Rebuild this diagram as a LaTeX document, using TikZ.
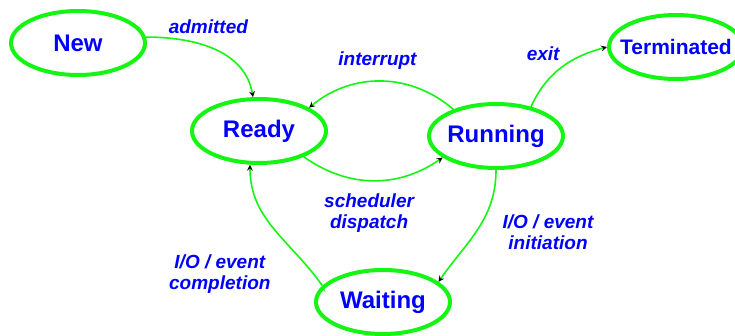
\documentclass[tikz,border=0pt]{standalone}
\usepackage{fontspec}
\setmainfont{Liberation Sans}
\usetikzlibrary{arrows,shapes.geometric}
\definecolor{verde}{RGB}{20,245,20}
\definecolor{azul}{RGB}{0,0,255}
\tikzstyle{trans}=[draw=verde, line width=1.6pt, >=stealth, ->]

\begin{document}
\begin{tikzpicture}[x=1pt,y=1pt,auto,
    estado/.style={ellipse,draw=verde,line width=4pt,minimum width=134pt,minimum height=64pt,
      inner sep=0pt,inner xsep=-2pt,text=azul,font=\fontsize{24}{28}\selectfont\bfseries},
    etiq/.style={text=azul,font=\fontsize{19}{21}\selectfont\bfseries\itshape,align=center,inner sep=3pt}]
  \useasboundingbox (0,0) rectangle (735,335);
  \node [estado] (new) at (78,292) {New};
  \node [estado] (ready) at (259,204) {Ready};
  \node [estado] (running) at (496,199) {Running};
  \node [estado,inner xsep=-11pt,font=\fontsize{21}{24}\selectfont\bfseries] (term) at (676,288) {Terminated};
  \node [estado] (waiting) at (383,33) {Waiting};
  \path[trans]
    (new.5)       edge [out=0,in=100]    node [etiq,pos=.35,above=5pt,xshift=13pt] {admitted} (ready.100)
    (running.148) edge [bend right=40]   node [etiq,swap,xshift=-4pt,yshift=8pt] {interrupt} (ready.25)
    (ready.-30)   edge [bend right=35]   node [etiq,swap,xshift=-4pt,yshift=-9pt] {scheduler\\dispatch} (running.202)
    (running.40)  edge [out=65,in=195]   node [etiq,xshift=2pt,yshift=3pt] {exit} (term.west)
    (running.south) edge [out=-90,in=55] node [etiq,xshift=21pt,yshift=18pt] {I/O / event\\initiation} (waiting.20)
    (waiting.165) edge [out=125,in=-90]  node [etiq,yshift=-22pt] {I/O / event\\completion} (ready.-105);
\end{tikzpicture}
\end{document}
